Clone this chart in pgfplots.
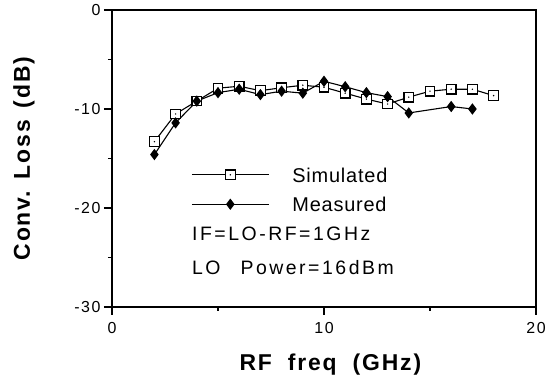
\documentclass[border=0pt]{standalone}
\usepackage{fontspec}
\setmainfont{Liberation Sans}
\usepackage{pgfplots}
\pgfplotsset{compat=1.18}
\pgfdeclareplotmark{dotsquare}{%
  \pgfpathrectangle{\pgfqpoint{-\pgfplotmarksize}{-\pgfplotmarksize}}{\pgfqpoint{2\pgfplotmarksize}{2\pgfplotmarksize}}%
  \pgfusepathqfillstroke
  \begin{pgfscope}%
  \pgfpathcircle{\pgfpointorigin}{0.8pt}%
  \pgfsetfillcolor{black}\pgfusepathqfill
  \end{pgfscope}}
\newcommand{\tickfont}{\fontsize{16}{18}\selectfont\addfontfeature{LetterSpace=10}}
\newcommand{\txtfont}{\fontsize{19.5}{22}\selectfont\addfontfeature{LetterSpace=13}}
\newcommand{\legfont}{\fontsize{20}{23}\selectfont\addfontfeature{LetterSpace=4}}
\newcommand{\labfont}{\fontsize{23}{27}\selectfont\bfseries\addfontfeature{LetterSpace=8}}
\pgfplotstableread{
x y
2 -13.3
3 -10.5
4 -9.2
5 -7.9
6 -7.7
7 -8.15
8 -7.85
9 -7.6
10 -7.8
11 -8.4
12 -9.0
13 -9.5
14 -8.8
15 -8.2
16 -8.0
17 -8.0
18 -8.65
}\simdata
\pgfplotstableread{
x y
2 -14.6
3 -11.4
4 -9.2
5 -8.35
6 -8.0
7 -8.55
8 -8.2
9 -8.4
10 -7.2
11 -7.75
12 -8.35
13 -8.75
14 -10.4
16 -9.75
17 -10.0
}\measdata
\begin{document}
\begin{tikzpicture}
\useasboundingbox (-112bp,-73bp) rectangle (444bp,307bp);
\begin{axis}[
  at={(0,0)}, anchor=south west,
  scale only axis, width=424bp, height=297bp,
  xmin=0, xmax=20, ymin=-30, ymax=0,
  xtick={0,10,20}, xticklabels={0,10,20},
  ytick={-30,-20,-10,0}, yticklabels={-30,-20,-10,0},
  minor xtick={5,15}, minor ytick={-25,-15,-5},
  tick align=outside, tick pos=left,
  major tick length=8bp, minor tick length=4bp,
  axis line style={line width=1.2bp},
  every tick/.style={black, line width=1.1bp},
  x tick label style={font=\tickfont, yshift=-4bp},
  y tick label style={font=\tickfont},
  xlabel={RF\hspace{16bp}freq\hspace{16bp}(GHz)},
  xlabel style={font=\labfont, at={([yshift=-63bp]axis description cs:0.515,0)}, anchor=base},
  ylabel={Conv.\hspace{12bp}Loss\hspace{12bp}(dB)},
  ylabel style={font=\labfont, at={([xshift=-82bp]axis description cs:0,0.5)}, anchor=base},
  legend style={at={(axis cs:3.73,-15.9)}, anchor=north west, draw=none, fill=none,
    font=\legfont, row sep=15bp, inner sep=0pt,
    nodes={inner sep=0pt, text depth=0pt}},
  legend cell align=left,
  legend image code/.code={%
    \draw[mark repeat=2, mark phase=2, #1] plot coordinates {(0bp,0bp) (38.5bp,0bp) (77bp,0bp)};
    \path (100bp,0bp);},
]
\addplot[black, line width=1.1bp, mark=dotsquare, mark size=4.8bp, mark options={fill=white, line width=1.2bp}] table {\simdata};
\addlegendentry{Simulated}
\addplot[black, line width=1.1bp, mark=diamond*, mark size=4.8bp, mark options={fill=black}] table {\measdata};
\addlegendentry{Measured}
\node[anchor=base west, font=\txtfont, inner sep=0pt] at (axis cs:3.77,-23.3) {IF=LO-RF=1GHz};
\node[anchor=base west, font=\txtfont, inner sep=0pt] at (axis cs:3.77,-26.7) {LO\hspace{20bp}Power=16dBm};
\end{axis}
\end{tikzpicture}
\end{document}
